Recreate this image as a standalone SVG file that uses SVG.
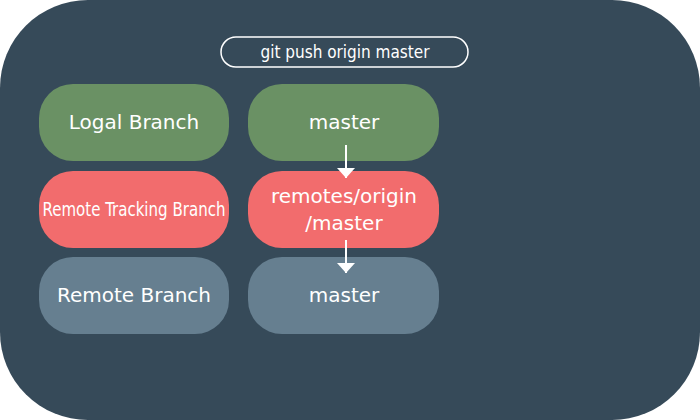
<svg xmlns="http://www.w3.org/2000/svg" width="700" height="420" viewBox="0 0 700 420">
<style>
.t{font-family:"DejaVu Sans",sans-serif;font-size:20px;fill:#fff;text-anchor:middle}
.c{font-family:"DejaVu Sans Condensed","DejaVu Sans",sans-serif;fill:#fff;text-anchor:middle}
.g{fill:#6a9164}.r{fill:#f26c6d}.b{fill:#667f90}
.a{stroke:#fff;stroke-width:2;fill:none}
</style>
<defs><marker id="ah" viewBox="0 0 10 18" refX="10" refY="9" markerWidth="10" markerHeight="18" markerUnits="userSpaceOnUse" orient="auto"><path d="M0,0L10,9L0,18z" fill="#fff"/></marker></defs>
<rect x="0" y="0" width="700" height="420" rx="88" fill="#364a59"/>
<g id="cmd"><rect x="221" y="37" width="247" height="30" rx="15" fill="none" stroke="#fff" stroke-width="1.5"/><text class="c" x="345" y="58" font-size="17">git push origin master</text></g>
<g id="local"><rect class="g" x="39" y="84" width="190" height="77" rx="34"/><text class="t" x="134" y="129">Logal Branch</text></g>
<g id="master-local"><rect class="g" x="248" y="84" width="191" height="77" rx="34"/><text class="t" x="344" y="129">master</text></g>
<g id="tracking"><rect class="r" x="39" y="171" width="190" height="77" rx="34"/><text class="c" x="134" y="216" font-size="19" textLength="183" lengthAdjust="spacingAndGlyphs">Remote Tracking Branch</text></g>
<g id="origin-master"><rect class="r" x="248" y="171" width="191" height="77" rx="34"/><text class="t" x="344" y="203">remotes/origin</text><text class="t" x="344" y="230">/master</text></g>
<g id="remote"><rect class="b" x="39" y="257" width="190" height="77" rx="34"/><text class="t" x="134" y="302">Remote Branch</text></g>
<g id="master-remote"><rect class="b" x="248" y="257" width="191" height="77" rx="34"/><text class="t" x="344" y="302">master</text></g>
<g id="connectors">
<line class="a" x1="346" y1="145" x2="346" y2="178" marker-end="url(#ah)"/>
<line class="a" x1="346" y1="240" x2="346" y2="273" marker-end="url(#ah)"/>
</g>
</svg>
